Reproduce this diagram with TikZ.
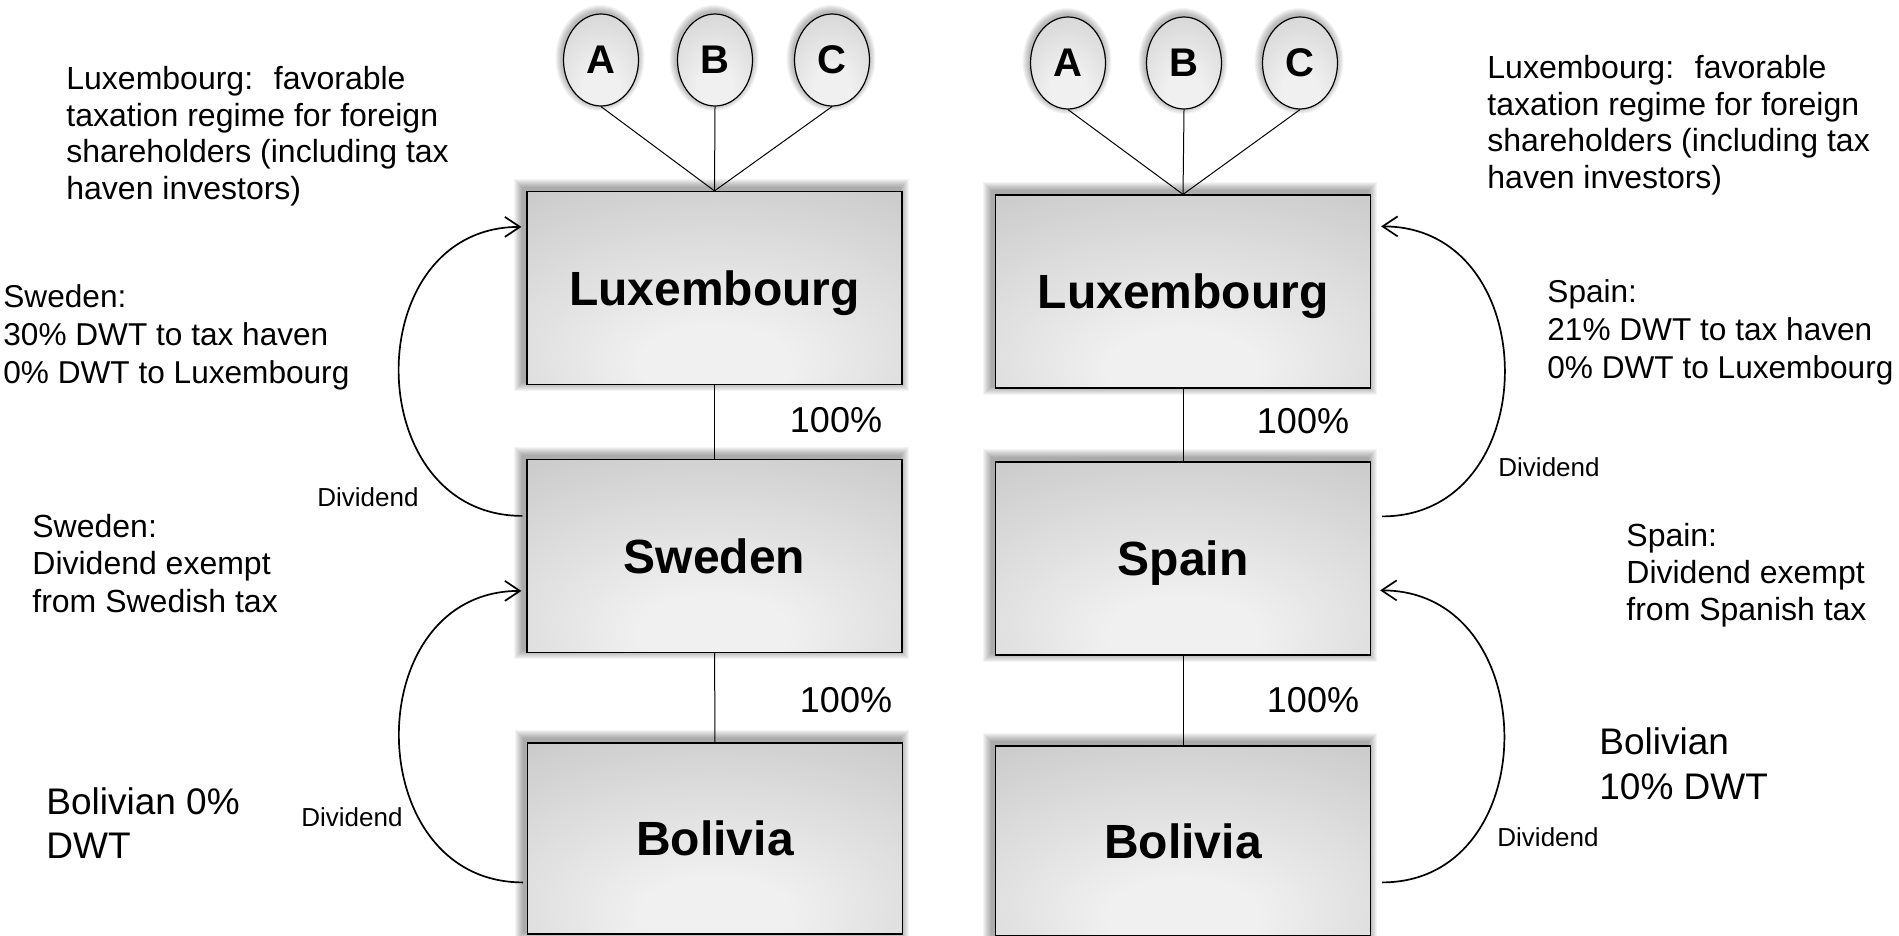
\documentclass[tikz,border=0pt]{standalone}
\usepackage{fontspec}
\setmainfont{Liberation Sans}
\usepackage{tikz}
\usetikzlibrary{arrows.meta,shapes.geometric,backgrounds}
\definecolor{greylight}{HTML}{F0F0F0}
\definecolor{greymid}{HTML}{D0D0D0}
\definecolor{greyedge}{HTML}{BABABA}
\definecolor{greydark}{HTML}{AEAEAE}
\pgfdeclareradialshading{boxfill}{\pgfpoint{0bp}{-22bp}}{color(0bp)=(greylight); color(10bp)=(greylight); color(40bp)=(greymid); color(60bp)=(greyedge); color(90bp)=(greydark); color(100bp)=(greydark)}
\pgfdeclareradialshading{ballfill}{\pgfpoint{0bp}{-18bp}}{color(0bp)=(greylight); color(12bp)=(greylight); color(45bp)=(greymid); color(70bp)=(greydark); color(100bp)=(greydark)}

\begin{document}
\begin{tikzpicture}[x=0.5pt,y=-0.5pt,
  entity/.style={rectangle,draw,line width=0.6pt,shade,shading=boxfill,minimum width=187.5pt,minimum height=96.5pt,inner sep=0pt,text depth=0pt,font=\fontsize{24pt}{28pt}\selectfont\bfseries},
  holder/.style={ellipse,draw,line width=0.6pt,shade,shading=ballfill,minimum width=37.5pt,minimum height=46pt,inner sep=0pt,font=\fontsize{20pt}{24pt}\selectfont\bfseries},
  note/.style={anchor=north west,inner sep=0pt,align=left,font=\fontsize{16pt}{18.3pt}\selectfont},
  pct/.style={inner sep=0pt,font=\fontsize{18pt}{21pt}\selectfont},
  divlabel/.style={inner sep=0pt,font=\fontsize{13pt}{15pt}\selectfont},
  divarrow/.style={line width=0.85pt,-{Straight Barb[length=7.5pt,width=10pt]}},
  own/.style={line width=0.5pt},
  glow/.style={black,opacity=0.045}]
\useasboundingbox (0,0) rectangle (1899,936);

% Sweden route
\node[entity] (luxL) at (714.5,288) {Luxembourg};
\node[entity] (swe) at (714.5,556) {Sweden};
\node[entity,minimum height=95.5pt] (bolL) at (715,838.5) {Bolivia};
% Spain route
\node[entity] (luxR) at (1183,291.5) {Luxembourg};
\node[entity] (spa) at (1183,558.5) {Spain};
\node[entity,minimum height=95pt] (bolR) at (1183,841) {Bolivia};

\foreach \n/\x in {A/601,B/715,C/832} {
   \node[holder] (l\n) at (\x,60) {\n};
   \draw[own] (l\n.south) -- (luxL.north);
}
\foreach \n/\x in {A/1068,B/1184,C/1300} {
   \node[holder] (r\n) at (\x,63) {\n};
   \draw[own] (r\n.south) -- (luxR.north);
}

\begin{scope}[on background layer]
\foreach \b in {luxL,swe,bolL,luxR,spa,bolR} {
   \foreach \d in {1,...,9} {
      \fill[glow] ([shift={(-\d-3,-\d-3)}]\b.north west) rectangle ([shift={(\d-3,\d-3)}]\b.south east);
   }
}
\foreach \c in {lA,lB,lC,rA,rB,rC} {
   \foreach \d in {1,...,7} {
      \fill[glow] ([shift={(-1,-2)}]\c.center) ellipse [x radius=37.5+\d, y radius=46+\d];
   }
}
\end{scope}

\draw[own] (luxL) -- (swe);
\draw[own] (swe) -- (bolL);
\draw[own] (luxR) -- (spa);
\draw[own] (spa) -- (bolR);
\node[pct] (pLS) at (836,420) {100\%};
\node[pct] (pLB) at (846,700) {100\%};
\node[pct] (pRS) at (1303,421) {100\%};
\node[pct] (pRB) at (1313,700) {100\%};

% dividend flows
\draw[divarrow] ([shift={(-4,57)}]swe.north west) .. controls +(-164,0) and +(-164,0) .. ([shift={(-5,36)}]luxL.north west);
\draw[divarrow] ([shift={(-4,140)}]bolL.north west) .. controls +(-164,0) and +(-164,0) .. ([shift={(-5,132)}]swe.north west);
\draw[divarrow] ([shift={(11,55)}]spa.north east) .. controls +(164,0) and +(164,0) .. ([shift={(10,32)}]luxR.north east);
\draw[divarrow] ([shift={(11,137)}]bolR.north east) .. controls +(164,0) and +(164,0) .. ([shift={(9,129)}]spa.north east);
\node[divlabel] (dLU) at (368,497) {Dividend};
\node[divlabel] (dLL) at (352,817) {Dividend};
\node[divlabel] (dRU) at (1549,467) {Dividend};
\node[divlabel] (dRL) at (1548,837) {Dividend};

% notes
\node[note] (luxnoteL) at (66,66) {Luxembourg:~ favorable\\taxation regime for foreign\\shareholders (including tax\\haven investors)};
\node[note] (luxnoteR) at (1487,55) {Luxembourg:~ favorable\\taxation regime for foreign\\shareholders (including tax\\haven investors)};
\node[note,font=\fontsize{15.8pt}{19pt}\selectfont] (swedwt) at (3,284) {Sweden:\\30\% DWT to tax haven\\0\% DWT to Luxembourg};
\node[note,font=\fontsize{15.8pt}{19pt}\selectfont] (spadwt) at (1547,279) {Spain:\\21\% DWT to tax haven\\0\% DWT to Luxembourg};
\node[note,font=\fontsize{16pt}{18.7pt}\selectfont] (sweexm) at (32,514) {Sweden:\\Dividend exempt\\from Swedish tax};
\node[note,font=\fontsize{16pt}{18.5pt}\selectfont] (spaexm) at (1626,523) {Spain:\\Dividend exempt\\from Spanish tax};
\node[note,font=\fontsize{18.5pt}{22.2pt}\selectfont] (bolnoteL) at (46,787) {Bolivian 0\%\\DWT};
\node[note,font=\fontsize{18.5pt}{22.4pt}\selectfont] (bolnoteR) at (1599,727) {Bolivian\\10\% DWT};
\end{tikzpicture}
\end{document}
